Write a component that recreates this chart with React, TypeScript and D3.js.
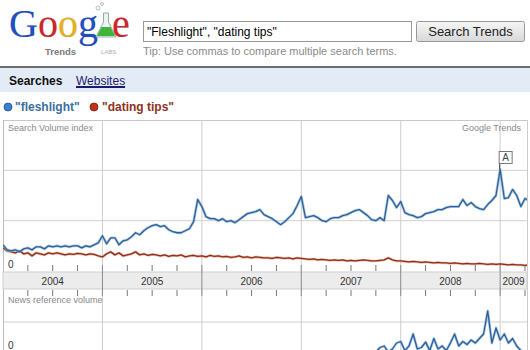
import React from "react";
import * as d3 from "d3";

// ---- data (half-month steps starting Jan 2004) ----
const yearTicks = [2004, 2005, 2006, 2007, 2008, 2009];
const yearLabels = ["2004", "2005", "2006", "2007", "2008", "2009"];
const seriesNames = ['"fleshlight"', '"dating tips"'];

const fleshlight = [
  0.52, 0.42, 0.40, 0.42, 0.38, 0.44, 0.46, 0.42, 0.48, 0.48, 0.44, 0.50,
  0.48, 0.50, 0.48, 0.50, 0.48, 0.50, 0.50, 0.46, 0.50, 0.48, 0.52, 0.56,
  0.70, 0.54, 0.66, 0.66, 0.52, 0.60, 0.62, 0.68, 0.76, 0.72, 0.80, 0.86,
  0.90, 0.92, 0.88, 0.90, 0.82, 0.78, 0.76, 0.76, 0.80, 0.84, 0.98, 1.42,
  1.28, 1.08, 1.04, 1.04, 1.00, 1.04, 0.98, 1.00, 0.96, 1.02, 1.08, 1.14,
  1.16, 1.18, 1.22, 1.12, 1.08, 1.04, 0.98, 0.92, 0.98, 1.06, 1.14, 1.30,
  1.48, 1.06, 1.08, 1.10, 1.06, 1.00, 0.98, 1.04, 1.06, 1.06, 1.10, 1.12,
  1.16, 1.20, 1.22, 1.16, 1.10, 1.02, 1.00, 1.06, 1.00, 1.50, 1.40, 1.26,
  1.38, 1.16, 1.12, 1.10, 1.06, 1.08, 1.14, 1.16, 1.18, 1.22, 1.22, 1.26,
  1.28, 1.28, 1.28, 1.42, 1.30, 1.36, 1.28, 1.24, 1.22, 1.32, 1.40, 1.50,
  2.02, 1.44, 1.46, 1.62, 1.50, 1.28, 1.44, 1.40,
];

const datingTips = [
  0.46, 0.40, 0.38, 0.36, 0.40, 0.34, 0.36, 0.30, 0.36, 0.34, 0.32, 0.36,
  0.34, 0.36, 0.34, 0.32, 0.34, 0.33, 0.35, 0.34, 0.32, 0.34, 0.33, 0.30,
  0.28, 0.34, 0.38, 0.32, 0.36, 0.30, 0.32, 0.34, 0.38, 0.32, 0.34, 0.31,
  0.33, 0.32, 0.30, 0.32, 0.29, 0.31, 0.30, 0.32, 0.28, 0.30, 0.31, 0.29,
  0.30, 0.28, 0.31, 0.29, 0.30, 0.28, 0.29, 0.27, 0.28, 0.30, 0.27, 0.28,
  0.26, 0.28, 0.27, 0.26, 0.26, 0.25, 0.27, 0.26, 0.25, 0.26, 0.24, 0.26,
  0.25, 0.24, 0.23, 0.24, 0.22, 0.23, 0.22, 0.21, 0.22, 0.21, 0.22, 0.20,
  0.21, 0.20, 0.21, 0.22, 0.21, 0.20, 0.20, 0.21, 0.22, 0.26, 0.22, 0.20,
  0.20, 0.19, 0.18, 0.19, 0.18, 0.17, 0.18, 0.17, 0.16, 0.17, 0.16, 0.16,
  0.15, 0.16, 0.15, 0.14, 0.15, 0.14, 0.14, 0.15, 0.14, 0.13, 0.14, 0.13,
  0.14, 0.13, 0.12, 0.13, 0.12, 0.12, 0.11, 0.12,
];

const newsStart = 88;
const newsVolume = [
  0, 0, 0, 0.15, 0.2, 0, 0.1, 0.3, 0.35, 0.05, 0.2, 0.6, 0.1, 0.15, 0.33,
  0.05, 0.45, 0.1, 0.2, 0.05, 0.3, 0.6, 0.2, 0.35, 0.25, 0.4, 0.3, 0.45, 0.6,
  1.37, 0.3, 0.8, 0.4, 0.6, 0.3, 0.45, 0.2, 0.05, 0,
];

const annotationIndex = 120;
const annotationLabel = "A";

const SANS = "Liberation Sans, Arial, sans-serif";

export default function App() {
  const W = 530;
  const H = 350;
  const left = 3;
  const right = 527;
  const t = (i: number) => 2004 + i / 24;
  const x = d3.scaleLinear().domain([2004, 2009.27]).range([left, right]);
  const y = d3.scaleLinear().domain([0, 3]).range([271, 120]);
  const yNews = d3.scaleLinear().domain([0, 2]).range([352, 292]);

  const line = d3
    .line<number>()
    .x((_, i) => x(t(i)))
    .y((d) => y(d));
  const newsLine = d3
    .line<number>()
    .x((_, i) => x(t(i + newsStart)))
    .y((d) => yNews(d));

  const quarterTicks: number[] = [];
  for (let yr = 2004; yr <= 2009; yr++) {
    for (const q of [0.25, 0.5, 0.75]) {
      if (yr + q < 2009.27) quarterTicks.push(yr + q);
    }
  }

  const blueCore = "#2d5f93";
  const blueHalo = "#8db6e2";
  const redCore = "#8e2c16";
  const redHalo = "#d9907a";

  const ax = x(t(annotationIndex));
  const ay = y(fleshlight[annotationIndex]);

  return (
    <div style={{ position: "fixed", left: 0, top: 0 }}>
      <svg width={W} height={H} style={{ display: "block", background: "#fff" }}>
        <defs>
          <linearGradient id="btn" x1="0" y1="0" x2="0" y2="1">
            <stop offset="0" stopColor="#f6f6f6" />
            <stop offset="1" stopColor="#d8d8d8" />
          </linearGradient>
          <clipPath id="plot">
            <rect x={left} y={120} width={right - left} height={H - 120} />
          </clipPath>
        </defs>

        {/* ---- Logo ---- */}
        <text x={9} y={37} fontFamily="Liberation Serif, serif" fontSize={40} stroke="rgba(0,0,0,0.15)" strokeWidth={0.6}>
          <tspan fill="#1f4fc4">G</tspan>
          <tspan fill="#d0262b">o</tspan>
          <tspan fill="#e9b21a">o</tspan>
          <tspan fill="#1f4fc4">g</tspan>
        </text>
        <path d="M103.5,13 L108.5,13 L108.5,22 L116,37 L96,37 L103.5,22 Z" fill="#eef3ee" stroke="#9aa" strokeWidth={1} />
        <path d="M101.5,27 L110.5,27 L115,36 L97,36 Z" fill="#3fb43a" />
        <circle cx={98} cy={8} r={2} fill="none" stroke="#aaa" strokeWidth={0.8} />
        <circle cx={102} cy={4} r={1.5} fill="none" stroke="#aaa" strokeWidth={0.8} />
        <text x={112} y={37} fontFamily="Liberation Serif, serif" fontSize={40} fill="#d0262b" stroke="rgba(0,0,0,0.15)" strokeWidth={0.6}>e</text>
        <text x={45} y={55} fontFamily={SANS} fontSize={9.5} fontWeight="bold" fill="#7a7a7a">Trends</text>
        <text x={101} y={54} fontFamily={SANS} fontSize={6} fill="#aaa">LABS</text>

        {/* ---- Search box ---- */}
        <rect x={143.5} y={21.5} width={268} height={20} fill="#fff" stroke="#999" />
        <text x={147} y={36} fontFamily={SANS} fontSize={12} fill="#000">"Fleshlight", "dating tips"</text>
        <rect x={416.5} y={21.5} width={108} height={20} rx={2} fill="url(#btn)" stroke="#999" />
        <text x={470.5} y={36} textAnchor="middle" fontFamily={SANS} fontSize={13} fill="#222">Search Trends</text>
        <text x={143} y={55} fontFamily={SANS} fontSize={11} fill="#8a8a8a">Tip: Use commas to compare multiple search terms.</text>

        {/* ---- Tabs ---- */}
        <rect x={0} y={66} width={W} height={2} fill="#6d6d6d" />
        <rect x={0} y={68} width={W} height={24} fill="#e3ebf7" />
        <text x={9} y={85} fontFamily={SANS} fontSize={12} fontWeight="bold" fill="#111">Searches</text>
        <text x={76} y={85} fontFamily={SANS} fontSize={12} fill="#1b1b6a" textDecoration="underline">Websites</text>
        <line x1={76} x2={125} y1={87.5} y2={87.5} stroke="#1b1b6a" />

        {/* ---- Legend ---- */}
        <circle cx={8} cy={107} r={4} fill="#3b7fd4" stroke="#1d4f8a" strokeWidth={0.8} />
        <text x={15} y={111} fontFamily={SANS} fontSize={12} fontWeight="bold" fill="#3b6e9e">{seriesNames[0]}</text>
        <circle cx={94} cy={107} r={4} fill="#c0321c" stroke="#7e1c0c" strokeWidth={0.8} />
        <text x={102} y={111} fontFamily={SANS} fontSize={12} fontWeight="bold" fill="#8e3220">{seriesNames[1]}</text>

        {/* ---- Chart frame & grid ---- */}
        <line x1={left} x2={right} y1={120.5} y2={120.5} stroke="#c8c8c8" />
        {[1, 2].map((v) => (
          <line key={v} x1={left} x2={right} y1={y(v)} y2={y(v)} stroke="#d0d0d0" />
        ))}
        <line x1={left} x2={right} y1={yNews(1)} y2={yNews(1)} stroke="#d0d0d0" />
        <line x1={left + 0.5} x2={left + 0.5} y1={120} y2={H} stroke="#bbb" />
        <line x1={right + 0.5} x2={right + 0.5} y1={120} y2={H} stroke="#ccc" />
        {yearTicks.slice(1).map((yr) => (
          <line key={yr} x1={x(yr)} x2={x(yr)} y1={120} y2={H} stroke="#cdcdcd" />
        ))}

        {/* year band */}
        <rect x={left} y={272} width={right - left} height={17} fill="#ececec" stroke="#cfcfcf" />
        {yearTicks.slice(1).map((yr) => (
          <line key={"b" + yr} x1={x(yr)} x2={x(yr)} y1={265} y2={296} stroke="#8a8a8a" />
        ))}
        {quarterTicks.map((q) => (
          <g key={"q" + q}>
            <line x1={x(q)} x2={x(q)} y1={265} y2={271} stroke="#777" />
            <line x1={x(q)} x2={x(q)} y1={290} y2={296} stroke="#777" />
          </g>
        ))}
        {yearLabels.map((lab, i) => {
          const a = yearTicks[i];
          const b = Math.min(a + 1, 2009.27);
          return (
            <text key={lab} x={(x(a) + x(b)) / 2} y={285} textAnchor="middle" fontFamily={SANS} fontSize={10} fill="#333">
              {lab}
            </text>
          );
        })}

        {/* labels */}
        <text x={8} y={131} fontFamily={SANS} fontSize={9} fill="#888">Search Volume index</text>
        <text x={521} y={131} textAnchor="end" fontFamily={SANS} fontSize={9} fill="#888">Google Trends</text>
        <text x={8} y={268} fontFamily={SANS} fontSize={10} fill="#333">0</text>
        <text x={8} y={303} fontFamily={SANS} fontSize={9} fill="#888">News reference volume</text>
        <text x={8} y={349} fontFamily={SANS} fontSize={10} fill="#333">0</text>

        {/* ---- Series ---- */}
        <g clipPath="url(#plot)" fill="none" strokeLinejoin="round">
          <path d={line(datingTips) || ""} stroke={redHalo} strokeWidth={2.6} opacity={0.6} />
          <path d={line(datingTips) || ""} stroke={redCore} strokeWidth={1.3} />
          <path d={line(fleshlight) || ""} stroke={blueHalo} strokeWidth={2.8} opacity={0.7} />
          <path d={line(fleshlight) || ""} stroke={blueCore} strokeWidth={1.3} />
          <path d={newsLine(newsVolume) || ""} stroke={blueHalo} strokeWidth={2.8} opacity={0.7} />
          <path d={newsLine(newsVolume) || ""} stroke={blueCore} strokeWidth={1.3} />
        </g>

        {/* annotation */}
        <line x1={ax - 0.5} x2={ax - 0.5} y1={163} y2={ay} stroke="#444" />
        <rect x={ax - 1} y={151.5} width={13} height={12} fill="#fff" stroke="#777" />
        <text x={ax + 5.5} y={161} textAnchor="middle" fontFamily={SANS} fontSize={10} fill="#444">{annotationLabel}</text>
      </svg>
    </div>
  );
}
